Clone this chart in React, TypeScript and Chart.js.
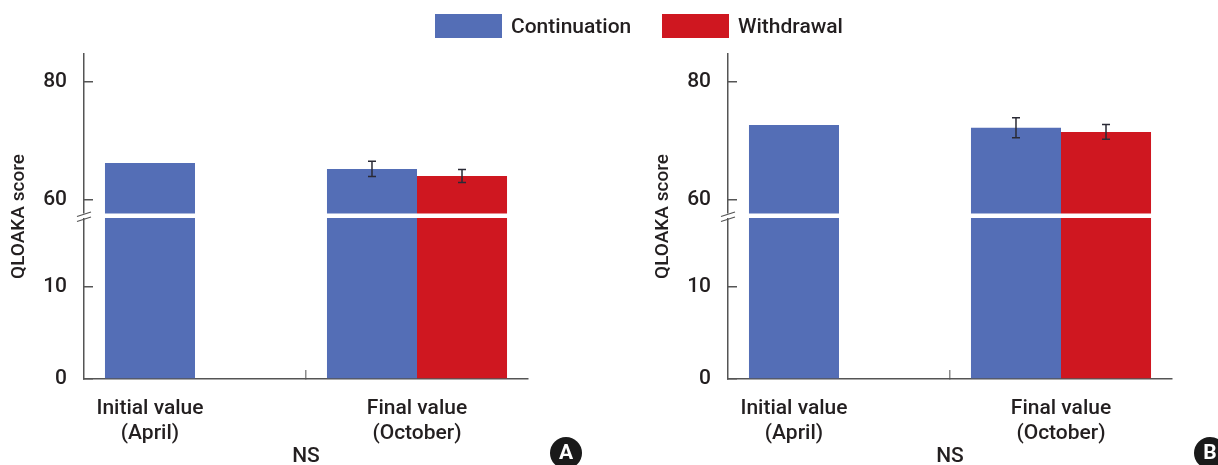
import React, { useEffect, useRef } from 'react';
import { Chart, registerables } from 'chart.js';

Chart.register(...registerables);

const FONT = "Roboto, 'Liberation Sans', Arial, sans-serif";
const W = 500;
const TEXT = '#231f20';
const AXIS = '#555555';
const TICK_MID = '#8c8c8c';
const ERR = '#2a2a35';

// ---- data ----
const categories = [['Initial value', '(April)'], ['Final value', '(October)']];
const seriesNames = ['Continuation', 'Withdrawal'];
const seriesColors = ['#546EB6', '#CF1720'];

const continuationA = [66.2, 65.2];
const withdrawalA = [null, 64.0];
const continuationErrA = [null, 1.3];
const withdrawalErrA = [null, 1.1];

const continuationB = [72.7, 72.2];
const withdrawalB = [null, 71.5];
const continuationErrB = [null, 1.7];
const withdrawalErrB = [null, 1.25];

const lowerTicks = [0, 10];
const upperTicks = [60, 80];
const lowerRange = [0, 17.72];
const upperRange = [57.19, 84.77];
const yTitle = 'QLOAKA score';
const xNote = 'NS';
const panelLetters = ['A', 'B'];

// ---- layout ----
const H = 465;
const AXIS_LEFT = 84;
const AXIS_RIGHT = 528;
const TOP = 54;
const X_AXIS_H = 86;
const LEGEND_LEFTS = [435, 662];

Chart.defaults.font.family = FONT;

function decorPlugin(letter: string, errors: (number | null)[][]) {
  return {
    id: 'decor' + letter,
    afterDatasetsDraw(chart: any) {
      const ctx = chart.ctx;
      const yHigh = chart.scales.yHigh;
      ctx.save();
      ctx.strokeStyle = ERR;
      ctx.lineWidth = 1.5;
      errors.forEach((errArr, di) => {
        const meta = chart.getDatasetMeta(di);
        const data = chart.data.datasets[di].data;
        errArr.forEach((e, i) => {
          if (e == null || data[i] == null) return;
          const x = meta.data[i].x;
          const yT = yHigh.getPixelForValue(data[i] + e);
          const yB = yHigh.getPixelForValue(data[i] - e);
          ctx.beginPath();
          ctx.moveTo(x, yT); ctx.lineTo(x, yB);
          ctx.moveTo(x - 4, yT); ctx.lineTo(x + 4, yT);
          ctx.moveTo(x - 4, yB); ctx.lineTo(x + 4, yB);
          ctx.stroke();
        });
      });
      ctx.restore();
    },
    afterDraw(chart: any) {
      const ctx = chart.ctx;
      const area = chart.chartArea;
      const yHigh = chart.scales.yHigh;
      const xs = chart.scales.x;
      const j = yHigh.bottom;
      ctx.save();
      // axis break
      ctx.fillStyle = '#fff';
      ctx.fillRect(area.left - 3, j - 2.5, area.right - area.left + 3, 4.5);
      ctx.strokeStyle = AXIS;
      ctx.lineWidth = 1.3;
      ctx.beginPath();
      ctx.moveTo(area.left - 7, j + 0.5); ctx.lineTo(area.left + 7, j - 4);
      ctx.moveTo(area.left - 7, j + 5.5); ctx.lineTo(area.left + 7, j + 1);
      ctx.stroke();

      // category labels
      ctx.fillStyle = TEXT;
      ctx.font = `${W} 21px ${FONT}`;
      ctx.textAlign = 'center';
      ctx.textBaseline = 'alphabetic';
      const m0 = chart.getDatasetMeta(0);
      const m1 = chart.getDatasetMeta(1);
      const d1 = chart.data.datasets[1].data;
      (chart.data.labels as string[][]).forEach((lab, i) => {
        const cx = d1[i] != null ? (m0.data[i].x + m1.data[i].x) / 2 : m0.data[i].x;
        lab.forEach((line, k) => ctx.fillText(line, cx, area.bottom + 35 + k * 25));
      });
      const nsX = (xs.getPixelForValue(0) + xs.getPixelForValue(1)) / 2;
      ctx.fillText(xNote, nsX, area.bottom + 83);

      // y title
      ctx.save();
      ctx.translate(24, (area.top + area.bottom) / 2);
      ctx.rotate(-Math.PI / 2);
      ctx.font = `${W} 19px ${FONT}`;
      ctx.fillText(yTitle, 0, 0);
      ctx.restore();

      // panel letter
      const cx = area.right + 38;
      const cy = 453;
      ctx.fillStyle = '#1a1a1a';
      ctx.beginPath();
      ctx.arc(cx, cy, 16, 0, Math.PI * 2);
      ctx.fill();
      ctx.fillStyle = '#fff';
      ctx.font = `bold 21px ${FONT}`;
      ctx.textBaseline = 'middle';
      ctx.fillText(letter, cx, cy + 1);
      ctx.restore();
    },
  };
}

type PanelProps = {
  left: number;
  width: number;
  letter: string;
  cont: (number | null)[];
  wd: (number | null)[];
  contErr: (number | null)[];
  wdErr: (number | null)[];
};

function Panel({ left, width, letter, cont, wd, contErr, wdErr }: PanelProps) {
  const ref = useRef<HTMLCanvasElement>(null);
  useEffect(() => {
    if (!ref.current) return;
    const bar = (label: string, data: any[], color: string, axis: string, stack: string) => ({
      label,
      data,
      backgroundColor: color,
      borderWidth: 0,
      yAxisID: axis,
      stack,
      clip: 0,
      categoryPercentage: 0.811,
      barPercentage: 1,
    });
    const yCommon = (ticks: number[], range: number[], weight: number) => ({
      type: 'linear' as const,
      position: 'left' as const,
      stack: 'y',
      stackWeight: weight,
      stacked: false,
      min: range[0],
      max: range[1],
      afterBuildTicks: (s: any) => {
        s.ticks = ticks.map((v) => ({ value: v }));
      },
      afterFit: (s: any) => {
        s.width = AXIS_LEFT;
      },
      ticks: { font: { size: 21, weight: W }, color: TEXT, padding: 26 },
      grid: { drawOnChartArea: false, drawTicks: true, tickLength: -9, lineWidth: 1.5, color: AXIS },
      border: { display: true, color: AXIS, width: 1.5 },
    });
    const chart = new Chart(ref.current, {
      type: 'bar',
      data: {
        labels: categories as any,
        datasets: [
          bar(seriesNames[0], cont, seriesColors[0], 'yHigh', 'c'),
          bar(seriesNames[1], wd, seriesColors[1], 'yHigh', 'w'),
          bar(seriesNames[0], cont, seriesColors[0], 'yLow', 'c'),
          bar(seriesNames[1], wd, seriesColors[1], 'yLow', 'w'),
        ] as any,
      },
      options: {
        animation: false,
        responsive: false,
        maintainAspectRatio: false,
        layout: { padding: { top: TOP, left: 0, right: width - AXIS_RIGHT, bottom: 0 } },
        plugins: { legend: { display: false }, tooltip: { enabled: false }, title: { display: false } },
        scales: {
          x: {
            type: 'category',
            offset: true,
            ticks: { display: false },
            grid: {
              display: true,
              offset: true,
              drawOnChartArea: false,
              drawTicks: true,
              tickLength: -9,
              lineWidth: 1.5,
              color: (c: any) => (c.index === 1 ? TICK_MID : 'rgba(0,0,0,0)'),
            },
            border: { display: true, color: AXIS, width: 1.5 },
            afterFit: (s: any) => {
              s.height = X_AXIS_H;
            },
          },
          yLow: yCommon(lowerTicks, lowerRange, 163),
          yHigh: yCommon(upperTicks, upperRange, 162),
        } as any,
      },
      plugins: [decorPlugin(letter, [contErr, wdErr])],
    });
    return () => chart.destroy();
  }, []);
  return (
    <canvas
      ref={ref}
      width={width}
      height={H}
      style={{ position: 'absolute', left, top: 0, width, height: H, display: 'block' }}
    />
  );
}

export default function App() {
  return (
    <div style={{ position: 'absolute', left: 0, top: 0, width: 1218, height: H, background: '#fff', overflow: 'hidden' }}>
      <Panel left={0} width={644} letter={panelLetters[0]} cont={continuationA} wd={withdrawalA} contErr={continuationErrA} wdErr={withdrawalErrA} />
      <Panel left={644} width={574} letter={panelLetters[1]} cont={continuationB} wd={withdrawalB} contErr={continuationErrB} wdErr={withdrawalErrB} />
      {seriesNames.map((n, i) => (
        <div
          key={n}
          style={{
            position: 'absolute',
            left: LEGEND_LEFTS[i],
            top: 14,
            height: 24,
            display: 'flex',
            alignItems: 'center',
            fontFamily: FONT,
            fontWeight: W,
            fontSize: 21,
            lineHeight: '24px',
            color: TEXT,
            whiteSpace: 'nowrap',
          }}
        >
          <span style={{ display: 'inline-block', width: 67, height: 24, background: seriesColors[i], marginRight: 9 }} />
          <span>{n}</span>
        </div>
      ))}
    </div>
  );
}
